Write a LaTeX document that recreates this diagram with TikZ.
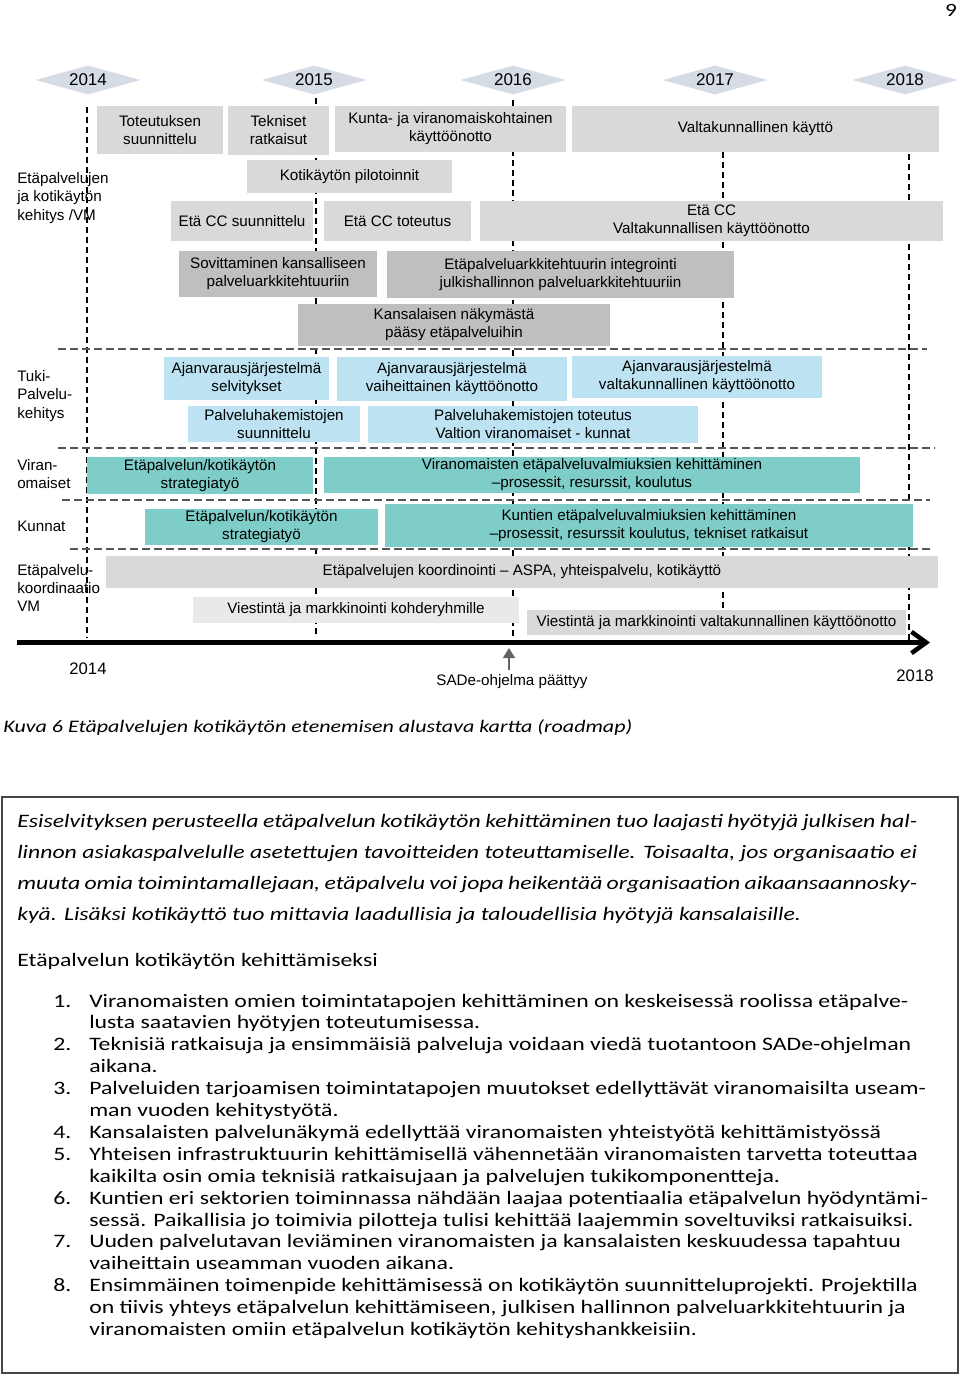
\documentclass[tikz,border=0pt]{standalone}
\usepackage{fontspec}
\setmainfont[FakeStretch=1.25]{Carlito}
\newfontfamily\diagfont{Liberation Sans}
\usetikzlibrary{arrows.meta,shapes.geometric}

\definecolor{YearTag}{RGB}{214,220,229}
\definecolor{PlanGray}{RGB}{217,217,217}
\definecolor{ArchGray}{RGB}{191,191,191}
\definecolor{SupportBlue}{RGB}{189,226,241}
\definecolor{AuthTeal}{RGB}{126,205,200}
\definecolor{CommLight}{RGB}{233,233,233}
\definecolor{LaneGray}{RGB}{85,85,85}
\definecolor{MarkGray}{RGB}{100,100,100}
\definecolor{FrameGray}{RGB}{70,70,70}

% one bar of the roadmap: name, x1, y1, x2, y2 (pixels from top left), style, text
\newcommand{\roadbar}[7]{%
  \node[#6, minimum width={(#4-#2)*0.75pt}, minimum height={(#5-#3)*0.75pt}]
    (#1) at ({(#2+#4)/2},{(#3+#5)/2}) {#7};}

\begin{document}
\begin{tikzpicture}[x=0.75pt, y=-0.75pt,
  bar/.style={inner sep=0pt, align=center, font=\diagfont\fontsize{11.4}{13.5}\selectfont},
  graybar/.style={bar, fill=PlanGray},
  archbar/.style={bar, fill=ArchGray},
  bluebar/.style={bar, fill=SupportBlue},
  tealbar/.style={bar, fill=AuthTeal},
  lightbar/.style={bar, fill=CommLight},
  yeartag/.style={diamond, fill=YearTag, shape aspect=3.6, inner sep=0pt,
    minimum width=78.75pt, minimum height=21.75pt, font=\diagfont\fontsize{12.75}{15}\selectfont},
  lane/.style={anchor=west, align=left, inner sep=0pt, font=\diagfont\fontsize{11.4}{13.8}\selectfont},
  yearline/.style={line width=1.1pt, dash pattern=on 4.5pt off 3pt},
  laneline/.style={LaneGray, line width=0.9pt, dash pattern=on 6pt off 3pt},
  bodyline/.style={anchor=base west, inner sep=0pt, font=\fontsize{14.25}{16.4}\selectfont},
]
\fill[white] (0,0) rectangle (960,1375);
\useasboundingbox (0,0) rectangle (960,1375);

\node[inner sep=0pt, font=\fontsize{14}{16}\selectfont] (pagenum) at (951,10) {9};

% years
\node[yeartag] (y2014) at (88,80) {2014};
\node[yeartag] (y2015) at (314,80) {2015};
\node[yeartag] (y2016) at (513,80) {2016};
\node[yeartag] (y2017) at (715,80) {2017};
\node[yeartag] (y2018) at (905,80) {2018};

% grid
\draw[yearline] (87,107) -- (87,638);
\draw[yearline] (316,98) -- (316,636);
\draw[yearline] (513,100) -- (513,640);
\draw[yearline] (723,152) -- (723,608);
\draw[yearline] (909,154) -- (909,640);
\draw[laneline] (58,349) -- (927,349);
\draw[laneline] (58,448) -- (935,448);
\draw[laneline] (62,500) -- (930,500);
\draw[laneline] (70,549) -- (932,549);

% lanes
\node[lane] (lanevm) at (17,198) {Etäpalvelujen\\ja kotikäytön\\kehitys /VM};
\node[lane] (lanetuki) at (17,396) {Tuki-\\Palvelu-\\kehitys};
\node[lane] (laneviran) at (17,474) {Viran-\\omaiset};
\node[lane] (lanekunnat) at (17,526) {Kunnat};
\node[lane] (lanekoord) at (17,588) {Etäpalvelu-\\koordinaatio\\VM};

% bars
\roadbar{tot}{97}{106}{223}{154}{graybar}{Toteutuksen\\suunnittelu}
\roadbar{tek}{228}{106}{329}{155}{graybar}{Tekniset\\ratkaisut}
\roadbar{kun}{335}{106}{566}{152}{graybar}{Kunta- ja viranomaiskohtainen\\käyttöönotto}
\roadbar{val}{572}{106}{939}{152}{graybar}{Valtakunnallinen käyttö}
\roadbar{pil}{247}{160}{452}{193}{graybar}{Kotikäytön pilotoinnit}
\roadbar{ccs}{171}{201}{313}{241}{graybar}{Etä CC suunnittelu}
\roadbar{cct}{324}{201}{471}{241}{graybar}{Etä CC toteutus}
\roadbar{ccv}{480}{201}{943}{241}{graybar}{Etä CC\\Valtakunnallisen käyttöönotto}
\roadbar{sov}{179}{251}{377}{297}{archbar}{Sovittaminen kansalliseen\\palveluarkkitehtuuriin}
\roadbar{int}{387}{251}{734}{298}{archbar}{Etäpalveluarkkitehtuurin integrointi\\julkishallinnon palveluarkkitehtuuriin}
\roadbar{nak}{298}{304}{610}{346}{archbar}{Kansalaisen näkymästä\\pääsy etäpalveluihin}
\roadbar{ajs}{164}{357}{329}{400}{bluebar}{Ajanvarausjärjestelmä\\selvitykset}
\roadbar{ajv}{337}{357}{567}{401}{bluebar}{Ajanvarausjärjestelmä\\vaiheittainen käyttöönotto}
\roadbar{ajk}{572}{356}{822}{398}{bluebar}{Ajanvarausjärjestelmä\\valtakunnallinen käyttöönotto}
\roadbar{phs}{188}{406}{360}{442}{bluebar}{Palveluhakemistojen\\suunnittelu}
\roadbar{pht}{368}{406}{698}{443}{bluebar}{Palveluhakemistojen toteutus\\Valtion viranomaiset - kunnat}
\roadbar{vst}{87}{457}{313}{494}{tealbar}{Etäpalvelun/kotikäytön\\strategiatyö}
\roadbar{vke}{324}{457}{860}{493}{tealbar}{Viranomaisten etäpalveluvalmiuksien kehittäminen\\–prosessit, resurssit, koulutus}
\roadbar{kst}{145}{509}{378}{545}{tealbar}{Etäpalvelun/kotikäytön\\strategiatyö}
\roadbar{kke}{385}{504}{913}{547}{tealbar}{Kuntien etäpalveluvalmiuksien kehittäminen\\–prosessit, resurssit koulutus, tekniset ratkaisut}
\roadbar{koo}{106}{556}{938}{588}{graybar}{Etäpalvelujen koordinointi – ASPA, yhteispalvelu, kotikäyttö}
\roadbar{vik}{193}{597}{519}{623}{lightbar}{Viestintä ja markkinointi kohderyhmille}
\roadbar{viv}{527}{610}{906}{635}{graybar}{Viestintä ja markkinointi valtakunnallinen käyttöönotto}

% time axis
\coordinate (axstart) at (17,642.5);
\coordinate (axend) at (930,642.5);
\draw[line width=3.4pt, -{Straight Barb[length=11pt, width=16pt]}] (axstart) -- (axend);
\node[font=\diagfont\fontsize{12.5}{15}\selectfont] (start) at (88,669) {2014};
\node[font=\diagfont\fontsize{12.5}{15}\selectfont] (end) at (915,676) {2018};
\node[font=\diagfont\fontsize{11.4}{13.5}\selectfont] (sade) at (512,682) {SADe-ohjelma päättyy};
\coordinate (sadetip) at (509,648);
\draw[MarkGray, line width=1.1pt, -{Triangle[length=7.5pt, width=9pt]}] (sade.north -| sadetip) -- (sadetip);

% caption
\node[bodyline, font=\itshape\fontsize{13.2}{15.5}\selectfont] (caption) at (3,732)
  {Kuva 6 Etäpalvelujen kotikäytön etenemisen alustava kartta (roadmap)};

% text frame
\draw[FrameGray, line width=1.1pt] (2,797) rectangle (958,1373);

\foreach \txt [count=\i from 0] in {%
  {Esiselvityksen perusteella etäpalvelun kotikäytön kehittäminen tuo laajasti hyötyjä julkisen hal-},
  {linnon asiakaspalvelulle asetettujen tavoitteiden toteuttamiselle. Toisaalta, jos organisaatio ei},
  {muuta omia toimintamallejaan, etäpalvelu voi jopa heikentää organisaation aikaansaannosky-}}
  \node[bodyline, font=\itshape\fontsize{14.25}{16.4}\selectfont] (par\i) at (17,{827+31*\i})
    {\makebox[675pt][s]{\txt}};
\node[bodyline, font=\itshape\fontsize{14.25}{16.4}\selectfont] (par3) at (17,920)
  {kyä. Lisäksi kotikäyttö tuo mittavia laadullisia ja taloudellisia hyötyjä kansalaisille.};

\node[bodyline] (head) at (17,966) {Etäpalvelun kotikäytön kehittämiseksi};

\foreach \num/\txt [count=\i from 0] in {%
  1./{Viranomaisten omien toimintatapojen kehittäminen on keskeisessä roolissa etäpalve-},
  {}/{lusta saatavien hyötyjen toteutumisessa.},
  2./{Teknisiä ratkaisuja ja ensimmäisiä palveluja voidaan viedä tuotantoon SADe-ohjelman},
  {}/{aikana.},
  3./{Palveluiden tarjoamisen toimintatapojen muutokset edellyttävät viranomaisilta useam-},
  {}/{man vuoden kehitystyötä.},
  4./{Kansalaisten palvelunäkymä edellyttää viranomaisten yhteistyötä kehittämistyössä},
  5./{Yhteisen infrastruktuurin kehittämisellä vähennetään viranomaisten tarvetta toteuttaa},
  {}/{kaikilta osin omia teknisiä ratkaisujaan ja palvelujen tukikomponentteja.},
  6./{Kuntien eri sektorien toiminnassa nähdään laajaa potentiaalia etäpalvelun hyödyntämi-},
  {}/{sessä. Paikallisia jo toimivia pilotteja tulisi kehittää laajemmin soveltuviksi ratkaisuiksi.},
  7./{Uuden palvelutavan leviäminen viranomaisten ja kansalaisten keskuudessa tapahtuu},
  {}/{vaiheittain useamman vuoden aikana.},
  8./{Ensimmäinen toimenpide kehittämisessä on kotikäytön suunnitteluprojekti. Projektilla},
  {}/{on tiivis yhteys etäpalvelun kehittämiseen, julkisen hallinnon palveluarkkitehtuurin ja},
  {}/{viranomaisten omiin etäpalvelun kotikäytön kehityshankkeisiin.}}
{
  \node[bodyline] (num\i) at (53,{1007+21.9*\i}) {\num};
  \node[bodyline] (item\i) at (89,{1007+21.9*\i}) {\txt};
}
\end{tikzpicture}
\end{document}
